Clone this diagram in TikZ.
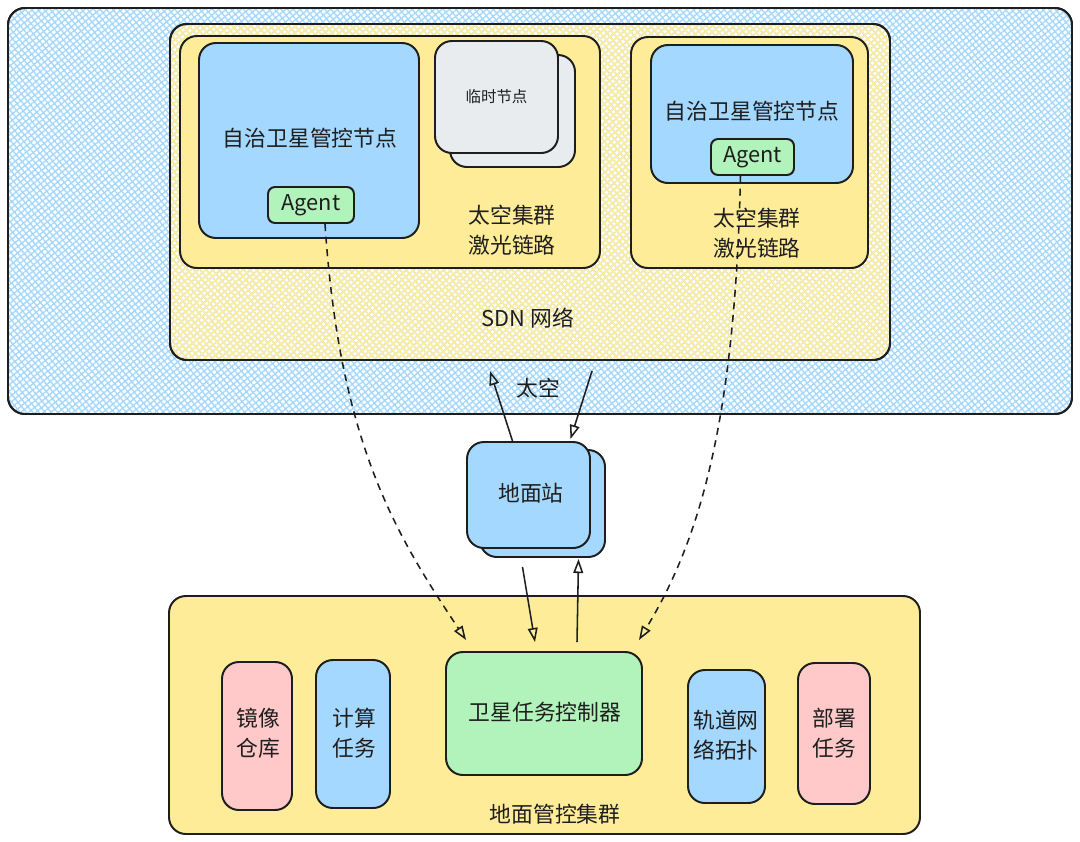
\documentclass[tikz,border=0pt]{standalone}
\usepackage{fontspec}
\setmainfont{Noto Sans CJK SC}
\usetikzlibrary{arrows.meta,fit,patterns.meta}
\definecolor{ink}{HTML}{1E1E1E}
\definecolor{skyb}{HTML}{A5D8FF}
\definecolor{sand}{HTML}{FFEC99}
\definecolor{mint}{HTML}{B2F2BB}
\definecolor{rose}{HTML}{FFC9C9}
\definecolor{mist}{HTML}{E9ECEF}
\tikzset{
	bx/.style={draw=ink, line width=1.4pt, rounded corners=12pt, inner sep=0pt},
	blu/.style={bx, fill=skyb},
	yel/.style={bx, fill=sand},
	grn/.style={bx, fill=mint},
	pnk/.style={bx, fill=rose},
	gry/.style={bx, fill=mist},
	hatch/.style={bx,
		pattern={Lines[angle=40,distance=3.4pt,line width=1pt]}, pattern color=#1,
		postaction={pattern={Lines[angle=-50,distance=3.4pt,line width=1pt]}, pattern color=#1},
		postaction={draw=ink, line width=1.4pt}},
	txt/.style={text=ink, align=center, font=\fontsize{15.5}{21}\selectfont},
	lnk/.style={draw=ink, line width=1.1pt, -{Triangle[open,length=10pt,width=7pt]}},
	dsh/.style={lnk, dashed, dash pattern=on 5pt off 4pt},
}

\begin{document}
\begin{tikzpicture}[x=0.025cm, y=-0.025cm]
	\useasboundingbox (0,0) rectangle (1080,842);

	% space side
	\node[hatch=skyb, fit={(8,8) (1072,414)}] (space) {};
	\node[hatch=sand, fit={(170,24) (890,360)}] (sdn) {};
	\node[yel, fit={(180,36) (600,268)}] (lclu) {};
	\node[yel, fit={(631,37) (868,268)}] (rclu) {};

	\node[blu, fit={(199,43) (419,238)}] (lsat) {};
	\node[txt] (lsatt) at (310,138) {自治卫星管控节点};
	\node[grn, rounded corners=5pt, fit={(268,187) (354,223)}] (lagent) {};
	\node[txt] (lagentt) at (lagent.center) {Agent};
	\node[gry, fit={(450,55) (575,167)}] (tmpb) {};
	\node[gry, fit={(435,41) (558,153)}] (tmp) {};
	\node[txt, font=\fontsize{11}{14}\selectfont] (tmpt) at (tmp.center) {临时节点};
	\node[txt] (llink) at (512,230) {太空集群\\激光链路};

	\node[blu, fit={(651,45) (853,183)}] (rsat) {};
	\node[txt] (rsatt) at (752,111) {自治卫星管控节点};
	\node[grn, rounded corners=5pt, fit={(711,139) (794,175)}] (ragent) {};
	\node[txt] (ragentt) at (ragent.center) {Agent};
	\node[txt] (rlink) at (757,233) {太空集群\\激光链路};

	\node[txt] (sdnt) at (528,318) {SDN 网络};
	\node[txt] (spacet) at (538,388) {太空};

	% ground station
	\node[blu, fit={(480,450) (605,557)}] (gsb) {};
	\node[blu, fit={(467,442) (590,548)}] (gs) {};
	\node[txt] (gst) at (531,493) {地面站};

	% ground side
	\node[yel, fit={(169,596) (920,834)}] (gnd) {};
	\node[pnk, fit={(222,662) (292,810)}] (repo) {};
	\node[txt] (repot) at (258,733) {镜像\\仓库};
	\node[blu, fit={(316,660) (390,808)}] (calc) {};
	\node[txt] (calct) at (354,733) {计算\\任务};
	\node[grn, fit={(446,652) (642,775)}] (ctrl) {};
	\node[txt] (ctrlt) at (545,712) {卫星任务控制器};
	\node[blu, fit={(688,670) (765,803)}] (topo) {};
	\node[txt] (topot) at (726,735) {轨道网\\络拓扑};
	\node[pnk, fit={(798,663) (870,804)}] (dep) {};
	\node[txt] (dept) at (834,733) {部署\\任务};
	\node[txt] (gndt) at (555,814) {地面管控集群};

	% links
	\draw[dsh] ([xshift=0.35cm]lagent.south) .. controls (340,450) and (400,540) .. ([xshift=0.525cm,yshift=0.275cm]ctrl.north west);
	\draw[dsh] ([xshift=-0.3cm]ragent.south) .. controls (735,420) and (700,540) .. ([xshift=-0.1cm,yshift=0.275cm]ctrl.north east);
	\draw[lnk] ([xshift=-0.4cm]gs.north) -- ([xshift=-1cm,yshift=-0.25cm]sdn.south);
	\draw[lnk] ([xshift=1.55cm,yshift=-0.25cm]sdn.south) -- ([xshift=1.05cm,yshift=0.05cm]gs.north);
	\draw[lnk] ([xshift=-0.5cm,yshift=-0.225cm]gsb.south) -- ([xshift=-0.225cm,yshift=0.225cm]ctrl.north);
	\draw[lnk] ([xshift=0.825cm,yshift=0.225cm]ctrl.north) -- ([xshift=0.9cm,yshift=-0.025cm]gsb.south);
\end{tikzpicture}
\end{document}
